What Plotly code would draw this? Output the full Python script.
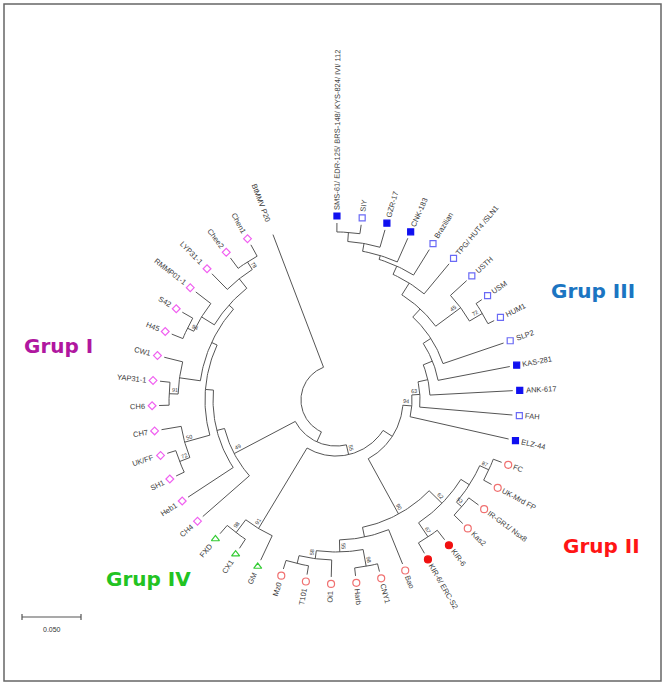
import math
import plotly.graph_objects as go

# ---------------- data ----------------
leaf_names = [
    "SMS-61/ EDR-125/ BRS-148/ KYS-824/ IVI/ 112", "SIY", "GZR-17", "CNK-183", "Brazilian",
    "TPG/ HUT4 /SLN1", "USTH", "USM", "HUM1", "SLP2", "KAS-281", "ANK-617", "FAH", "ELZ-44",
    "FC", "UK-Mrd FP", "IR-GR1/ Nsx8", "Kas2", "KIR-6", "KIR-6/ ERC-S2", "Bao", "CNY1", "Harb",
    "Oi1", "T101", "Mz0",
    "GM", "CX1", "FXD",
    "CH4", "Heb1", "SH1", "UK/FF", "CH7", "CH6", "YAP31-1", "CW1", "H45", "S42", "RMMP01-1",
    "LYP31-1", "Chee2", "Chen1",
    "BtMMV P20",
]
leaf_group = (["III"] * 14) + (["II"] * 12) + (["IV"] * 3) + (["I"] * 14) + ["out"]
leaf_filled = [
    1, 0, 1, 1, 0, 0, 0, 0, 0, 0, 1, 1, 0, 1,
    0, 0, 0, 0, 1, 1, 0, 0, 0, 0, 0, 0,
    0, 0, 0,
    0, 0, 0, 0, 0, 0, 0, 0, 0, 0, 0, 0, 0, 0,
    0,
]

# clades: id, child A, child B, height (distance units), bootstrap
clade_id = ["c3a1", "c3a2", "c3a3", "c3a4", "c3a5", "c3b1", "c3b2", "c3ab", "c3c", "c3d", "c3e", "c3f", "g3",
            "c2a", "c2b", "c2c", "c2d", "c2u", "c2e", "c2f", "c2g", "c2h", "c2l", "g2",
            "c4a", "g4",
            "c1a", "p1", "c1b", "p2", "c1c", "p3", "c1d", "p4", "p34", "p234", "z1", "c1e", "g1",
            "w", "y", "x", "root"]
clade_a = ["SMS-61/ EDR-125/ BRS-148/ KYS-824/ IVI/ 112", "c3a1", "c3a2", "c3a3", "c3a4", "USM", "USTH", "c3a5",
           "c3ab", "c3c", "c3d", "c3e", "c3f",
           "FC", "IR-GR1/ Nsx8", "c2a", "KIR-6", "c2c", "T101", "c2e", "Harb", "c2f", "c2h", "c2u",
           "FXD", "c4a",
           "SH1", "c1a", "CH6", "c1b", "H45", "c1c", "Chee2", "c1d", "p3", "p2", "p1", "z1", "c1e",
           "g3", "g4", "g1", "x"]
clade_b = ["SIY", "GZR-17", "CNK-183", "Brazilian", "TPG/ HUT4 /SLN1", "HUM1", "c3b1", "c3b2",
           "SLP2", "KAS-281", "ANK-617", "FAH", "ELZ-44",
           "UK-Mrd FP", "Kas2", "c2b", "KIR-6/ ERC-S2", "c2d", "Mz0", "Oi1", "CNY1", "c2g", "Bao", "c2l",
           "CX1", "GM",
           "UK/FF", "CH7", "YAP31-1", "CW1", "S42", "RMMP01-1", "Chen1", "LYP31-1", "p4", "p34", "p234", "Heb1", "CH4",
           "g2", "w", "y", "BtMMV P20"]
clade_height = [0.0076, 0.0153, 0.0220, 0.0254, 0.0331, 0.0059, 0.0186, 0.0449, 0.0542, 0.0619, 0.0703, 0.0788, 0.0856,
                0.0076, 0.0102, 0.0161, 0.0102, 0.0246, 0.0076, 0.0144, 0.0068, 0.0212, 0.0314, 0.0398,
                0.0093, 0.0229,
                0.0076, 0.0169, 0.0085, 0.0161, 0.0102, 0.0161, 0.0110, 0.0186, 0.0288, 0.0339, 0.0390, 0.0458, 0.0525,
                0.0932, 0.1025, 0.1110, 0.1203]
clade_support = ["", "", "", "", "", "72", "45", "", "", "", "", "63", "94",
                 "87", "53", "", "67", "62", "", "58", "98", "55", "", "90",
                 "98", "91",
                 "72", "50", "91", "", "94", "", "78", "", "", "", "", "", "49",
                 "", "55", "", ""]

group_titles = ["Grup I", "Grup III", "Grup II", "Grup IV"]
scale_value = 0.050

# ---------------- layout constants ----------------
W, H = 665, 685
CX, CY = 336, 400
PX_PER_UNIT = 1180.0
R_LEAF = 177.0
R_MARK = 184.0
R_TEXT_R = 190.0
R_TEXT_L = 191.0
A_START = 89.7
A_STEP = 7.88

def pos(r, a):
    t = math.radians(a)
    return CX + r * math.cos(t), CY - r * math.sin(t)

angle = {}
radius = {}
for i, n in enumerate(leaf_names):
    angle[n] = A_START - i * A_STEP
    radius[n] = R_LEAF
children = {}
for cid, a, b, h in zip(clade_id, clade_a, clade_b, clade_height):
    children[cid] = (a, b)
    angle[cid] = (angle[a] + angle[b]) / 2.0
    radius[cid] = R_LEAF - h * PX_PER_UNIT

lx, ly = [], []
for cid in clade_id:
    a, b = children[cid]
    r = radius[cid]
    a0, a1 = sorted([angle[a], angle[b]])
    nseg = max(4, int((a1 - a0) / 1.0))
    for k in range(nseg + 1):
        x, y = pos(r, a0 + (a1 - a0) * k / nseg)
        lx.append(x); ly.append(y)
    lx.append(None); ly.append(None)
    for c in (a, b):
        x0, y0 = pos(r, angle[c])
        x1, y1 = pos(radius[c], angle[c])
        lx += [x0, x1, None]; ly += [y0, y1, None]

fig = go.Figure()
fig.add_trace(go.Scatter(x=lx, y=ly, mode="lines", line=dict(color="#555555", width=1),
                         hoverinfo="skip", showlegend=False))

style = {
    ("III", 1): ("square", "#1010f0", 6),
    ("III", 0): ("square-open", "#6a6af5", 6),
    ("II", 1): ("circle", "#f01010", 7),
    ("II", 0): ("circle-open", "#f07070", 7),
    ("IV", 0): ("triangle-up-open", "#33cc33", 7),
    ("I", 0): ("diamond-open", "#f060f0", 6),
}
for key, (sym, col, sz) in style.items():
    xs, ys = [], []
    for n, g, f in zip(leaf_names, leaf_group, leaf_filled):
        if (g, f) == key:
            x, y = pos(R_MARK, angle[n])
            xs.append(x); ys.append(y)
    fig.add_trace(go.Scatter(x=xs, y=ys, mode="markers",
                             marker=dict(symbol=sym, color=col, size=sz, line=dict(color=col, width=1.2)),
                             hoverinfo="skip", showlegend=False))

CW = {}
for ch in "ABCDEFGHKNPRSUVXYZ":
    CW[ch] = 0.68
for ch in "IJ":
    CW[ch] = 0.28
CW["M"] = 0.83; CW["W"] = 0.94; CW["T"] = 0.61; CW["L"] = 0.56; CW["O"] = 0.78; CW["G"] = 0.78; CW["Q"] = 0.78
for ch in "0123456789":
    CW[ch] = 0.556
for ch in "abcdeghnopqsuvxyz":
    CW[ch] = 0.54
for ch in "filjrt":
    CW[ch] = 0.28
CW["m"] = 0.83; CW["w"] = 0.72; CW["k"] = 0.5
CW["/"] = 0.28; CW["-"] = 0.33; CW[" "] = 0.28

def text_w(s, fs):
    return sum(CW.get(c, 0.56) for c in s) * fs

def rot(a):
    a = (a + 180) % 360 - 180
    if math.cos(math.radians(a)) >= -1e-9:
        return -a
    return 180 - a

FS_LEAF = 7.5
for n in leaf_names:
    a = angle[n]
    w = text_w(n, FS_LEAF)
    r0 = R_TEXT_R if math.cos(math.radians(a)) >= 0 else R_TEXT_L
    x, y = pos(r0 + w / 2.0, a)
    fig.add_annotation(x=x, y=y, text=n, textangle=rot(a), showarrow=False,
                       xanchor="center", yanchor="middle",
                       font=dict(family="Liberation Sans, Arial", size=FS_LEAF, color="#3a3a3a"))

FS_BS = 5.5
for cid, sup in zip(clade_id, clade_support):
    if not sup:
        continue
    a = angle[cid]
    r = radius[cid] - 6
    x, y = pos(r, a)
    t = math.radians(a)
    if math.cos(t) >= 0:
        px, py = -math.sin(t), -math.cos(t)
    else:
        px, py = math.sin(t), math.cos(t)
    x += px * 4; y += py * 4
    fig.add_annotation(x=x, y=y, text=sup, textangle=rot(a), showarrow=False,
                       xanchor="center", yanchor="middle",
                       font=dict(family="Liberation Sans, Arial", size=FS_BS, color="#333333"))

title_pos = [(58, 346), (593, 291), (601, 546), (148, 579)]
title_col = ["#b0179f", "#1b75c2", "#ff1515", "#22c322"]
for t, (x, y), c in zip(group_titles, title_pos, title_col):
    fig.add_annotation(x=x, y=y, text="<b>%s</b>" % t, showarrow=False, xanchor="center", yanchor="middle",
                       font=dict(family="DejaVu Sans", size=20, color=c))

# scale bar
sb_x0, sb_y = 22, 617
sb_len = scale_value * PX_PER_UNIT
fig.add_shape(type="line", x0=sb_x0, x1=sb_x0 + sb_len, y0=sb_y, y1=sb_y, line=dict(color="#555555", width=1.2))
for xx in (sb_x0, sb_x0 + sb_len):
    fig.add_shape(type="line", x0=xx, x1=xx, y0=sb_y - 3, y1=sb_y + 3, line=dict(color="#555555", width=1.2))
fig.add_annotation(x=sb_x0 + sb_len / 2, y=sb_y + 12, text="%.3f" % scale_value, showarrow=False,
                   font=dict(family="Liberation Sans, Arial", size=7, color="#333333"))

# frame
fig.add_shape(type="rect", x0=4, x1=661, y0=4, y1=681, line=dict(color="#666666", width=1.5))

fig.update_layout(width=W, height=H, margin=dict(l=0, r=0, t=0, b=0),
                  paper_bgcolor="white", plot_bgcolor="white",
                  xaxis=dict(range=[0, W], visible=False, fixedrange=True),
                  yaxis=dict(range=[H, 0], visible=False, fixedrange=True))
fig.write_html("out.html", config={"displayModeBar": False},
               post_script="document.body.style.margin='0';document.body.style.overflow='hidden';")
